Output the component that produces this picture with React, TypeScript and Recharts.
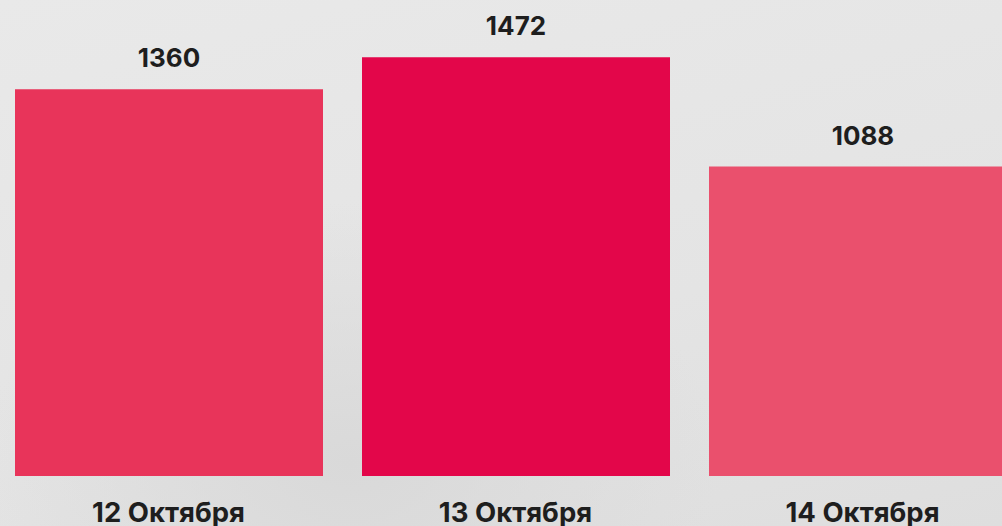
import { BarChart, Bar, XAxis, YAxis, Cell, LabelList } from "recharts";

const days = ["12 Октября", "13 Октября", "14 Октября"];
const counts = [1360, 1472, 1088];
const barColors = ["#E8345A", "#E3064A", "#EA506D"];

const data = days.map((day, i) => ({ day, value: counts[i] }));

const FONT = "Inter, 'Noto Sans', sans-serif";

const DayTick = (props: any) => {
  const { x, payload } = props;
  return (
    <text
      x={x}
      y={522}
      textAnchor="middle"
      fill="#1e1e1e"
      fontFamily={FONT}
      fontWeight={700}
      fontSize={27.5}
    >
      {payload.value}
    </text>
  );
};

export default function App() {
  return (
    <div
      style={{
        position: "absolute",
        left: 0,
        top: 0,
        width: 1002,
        height: 526,
        overflow: "hidden",
        background:
          "radial-gradient(ellipse at 35% 88%, #d9d9d9 0%, rgba(217,217,217,0) 40%), linear-gradient(165deg, #e9e9e9 0%, #e4e4e4 60%, #dedede 100%)",
      }}
    >
      <div style={{ position: "absolute", left: -5, top: 0 }}>
        <BarChart
          width={1041}
          height={526}
          data={data}
          margin={{ top: 56.5, right: 0, bottom: 0, left: 0 }}
          barSize={308}
        >
          <XAxis
            dataKey="day"
            axisLine={false}
            tickLine={false}
            height={50}
            tick={<DayTick />}
            interval={0}
          />
          <YAxis hide domain={[0, 1475]} />
          <Bar dataKey="value" isAnimationActive={false}>
            {data.map((d, i) => (
              <Cell key={d.day} fill={barColors[i]} />
            ))}
            <LabelList
              dataKey="value"
              position="top"
              offset={22}
              fill="#1e1e1e"
              fontFamily={FONT}
              fontWeight={700}
              fontSize={26}
            />
          </Bar>
        </BarChart>
      </div>
    </div>
  );
}
